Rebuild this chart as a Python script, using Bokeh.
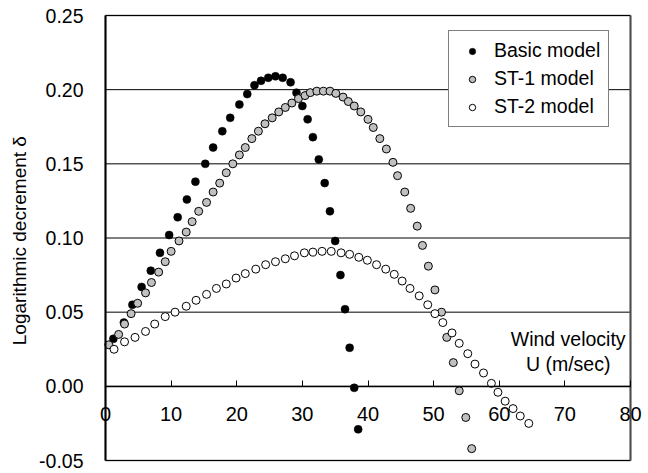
from bokeh.plotting import figure
from bokeh.models import (Range1d, FixedTicker, PrintfTickFormatter, LinearAxis,
                          Label, BoxAnnotation, Legend, LegendItem)
from bokeh.embed import file_html
from bokeh.resources import INLINE

# ---- data ----
basic_u = [1.2, 2.8, 4.1, 5.5, 6.9, 8.3, 9.7, 11.0, 12.4, 13.7, 15.2, 16.4, 17.8, 19.0,
           20.4, 21.6, 22.7, 23.7, 24.8, 25.9, 27.0, 28.2, 29.1, 30.0, 30.8, 31.6, 32.5,
           33.4, 34.2, 35.0, 35.8, 36.5, 37.2, 37.9, 38.5]
basic_d = [0.032, 0.043, 0.055, 0.067, 0.078, 0.090, 0.102, 0.114, 0.126, 0.138, 0.150,
           0.161, 0.172, 0.181, 0.190, 0.197, 0.203, 0.206, 0.208, 0.209, 0.208, 0.205,
           0.198, 0.189, 0.180, 0.168, 0.153, 0.137, 0.118, 0.098, 0.075, 0.052, 0.026,
           -0.001, -0.029]

st1_u = [0.5, 2.0, 2.9, 3.9, 4.9, 6.1, 7.0, 8.1, 9.1, 10.0, 11.2, 12.3, 13.2, 14.2, 15.4,
         16.4, 17.4, 18.4, 19.4, 20.4, 21.3, 22.3, 23.3, 24.3, 25.4, 26.4, 27.4, 28.4,
         29.4, 30.4, 31.2, 32.2, 33.2, 34.2, 35.1, 36.2, 37.0, 37.9, 38.9, 40.0, 40.8,
         41.8, 42.8, 43.8, 44.5, 45.6, 46.5, 47.5, 48.3, 49.2, 50.2, 51.2, 52.0, 53.0,
         53.9, 54.9, 55.8]
st1_d = [0.028, 0.035, 0.042, 0.049, 0.056, 0.063, 0.070, 0.077, 0.084, 0.091, 0.098,
         0.104, 0.111, 0.118, 0.124, 0.131, 0.137, 0.144, 0.150, 0.156, 0.161, 0.167,
         0.172, 0.177, 0.181, 0.185, 0.188, 0.191, 0.194, 0.196, 0.198, 0.199, 0.199,
         0.199, 0.1975, 0.195, 0.192, 0.189, 0.185, 0.180, 0.1745, 0.167, 0.160, 0.151,
         0.142, 0.131, 0.120, 0.108, 0.095, 0.081, 0.065, 0.050, 0.033, 0.016, -0.003,
         -0.021, -0.042]

st2_u = [1.3, 2.9, 4.5, 6.1, 7.5, 9.1, 10.6, 12.3, 13.8, 15.4, 16.9, 18.4, 19.9, 21.3,
         22.9, 24.4, 25.9, 27.4, 28.8, 30.3, 31.6, 33.0, 34.4, 35.9, 37.2, 38.6, 39.9,
         41.3, 42.7, 44.0, 45.2, 46.4, 47.8, 49.1, 50.2, 51.4, 52.8, 53.9, 55.2, 56.3,
         57.6, 58.8, 59.8, 60.9, 62.1, 63.2, 64.5]
st2_d = [0.025, 0.030, 0.033, 0.037, 0.042, 0.047, 0.050, 0.054, 0.058, 0.062, 0.066,
         0.069, 0.073, 0.076, 0.079, 0.082, 0.084, 0.086, 0.088, 0.090, 0.0905, 0.091,
         0.091, 0.090, 0.089, 0.087, 0.085, 0.082, 0.079, 0.0755, 0.071, 0.066, 0.061,
         0.055, 0.049, 0.043, 0.036, 0.029, 0.022, 0.015, 0.009, 0.002, -0.004, -0.010,
         -0.015, -0.020, -0.025]

x_ticks = [0, 10, 20, 30, 40, 50, 60, 70, 80]
x_tick_labels = ["0", "10", "20", "30", "40", "50", "60", "70", "80"]
y_ticks = [-0.05, 0.0, 0.05, 0.10, 0.15, 0.20, 0.25]

X_MIN, X_MAX = 0, 80
Y_MIN, Y_MAX = -0.05, 0.25

FONT = "Liberation Sans"
W, H = 648, 473
# plot-area placement on the page (pixels)
PL, PR, PT, PB = 105, 630, 15, 460
xs = (X_MAX - X_MIN) / (PR - PL)
ys = (Y_MAX - Y_MIN) / (PB - PT)

# the frame covers the whole page so that tick labels are never clipped;
# the plot area itself is drawn with axes placed at fixed data locations
p = figure(width=W, height=H, output_backend="svg", toolbar_location=None,
           x_range=Range1d(X_MIN - PL * xs, X_MAX + (W - PR) * xs),
           y_range=Range1d(Y_MIN - (H - PB) * ys, Y_MAX + PT * ys),
           x_axis_location=None, y_axis_location=None,
           min_border=0)
p.background_fill_color = "white"
p.border_fill_color = "white"
p.outline_line_color = None
p.xgrid.visible = False
p.ygrid.visible = False

# horizontal grid lines across the plot area
p.segment(x0=[X_MIN] * len(y_ticks), y0=y_ticks, x1=[X_MAX] * len(y_ticks), y1=y_ticks,
          line_color="black", line_width=1)
# plot-area border
p.add_layout(BoxAnnotation(left=X_MIN, right=X_MAX, bottom=Y_MIN, top=Y_MAX,
                           fill_alpha=0, line_color="black", line_width=2))
p.segment(x0=[X_MAX], y0=[Y_MIN], x1=[X_MAX], y1=[Y_MAX], line_color="#6e6e6e",
          line_width=2)

# y axis at the left edge of the plot area
yax = LinearAxis(fixed_location=X_MIN, bounds=(Y_MIN, Y_MAX))
yax.ticker = FixedTicker(ticks=y_ticks)
yax.formatter = PrintfTickFormatter(format="%.2f")
yax.major_tick_out = 0
yax.major_tick_in = 0
yax.minor_tick_out = 0
yax.minor_tick_in = 0
yax.axis_line_color = "black"
yax.axis_line_width = 2
yax.major_label_standoff = 22
yax.major_label_text_font = FONT
yax.major_label_text_font_size = "19.5px"
yax.major_label_text_color = "black"
yax.axis_label = "Logarithmic decrement  δ"
yax.axis_label_text_font = FONT
yax.axis_label_text_font_size = "19px"
yax.axis_label_text_font_style = "normal"
yax.axis_label_text_color = "black"
yax.axis_label_standoff = 6
p.add_layout(yax, "left")

# x axis crossing at delta = 0
xax = LinearAxis(fixed_location=0, bounds=(X_MIN, X_MAX))
xax.ticker = FixedTicker(ticks=x_ticks)
xax.major_label_overrides = {t: l for t, l in zip(x_ticks, x_tick_labels)}
xax.major_tick_in = 6
xax.major_tick_out = 0
xax.minor_tick_in = 0
xax.minor_tick_out = 0
xax.major_tick_line_color = "black"
xax.axis_line_color = "black"
xax.axis_line_width = 1.5
xax.major_label_standoff = 21
xax.major_label_text_font = FONT
xax.major_label_text_font_size = "20px"
xax.major_label_text_color = "black"
p.add_layout(xax, "below")

p.add_layout(Label(x=70.5, y=0.032, text="Wind velocity", text_align="center",
                   text_baseline="middle", text_font=FONT, text_font_size="19.5px",
                   text_color="black"))
p.add_layout(Label(x=70.5, y=0.0148, text="U (m/sec)", text_align="center",
                   text_baseline="middle", text_font=FONT, text_font_size="19.5px",
                   text_color="black"))

# series
r1 = p.scatter(basic_u, basic_d, size=8, marker="circle", fill_color="black",
               line_color="black", line_width=0.5)
r2 = p.scatter(st1_u, st1_d, size=8, marker="circle", fill_color="#c0c0c0",
               line_color="black", line_width=1)
r3 = p.scatter(st2_u, st2_d, size=8, marker="circle", fill_color="white",
               line_color="black", line_width=1)

legend = Legend(items=[LegendItem(label="Basic model", renderers=[r1]),
                       LegendItem(label="ST-1 model", renderers=[r2]),
                       LegendItem(label="ST-2 model", renderers=[r3])],
                location=(448, 346), padding=8, spacing=5, label_height=22,
                glyph_width=30, glyph_height=16, label_standoff=7,
                label_text_font=FONT, label_text_font_size="19.5px",
                label_text_color="black",
                border_line_color="black", border_line_width=1,
                background_fill_color="white", background_fill_alpha=1.0)
p.add_layout(legend)

open("out.html", "w").write(file_html(p, INLINE))
